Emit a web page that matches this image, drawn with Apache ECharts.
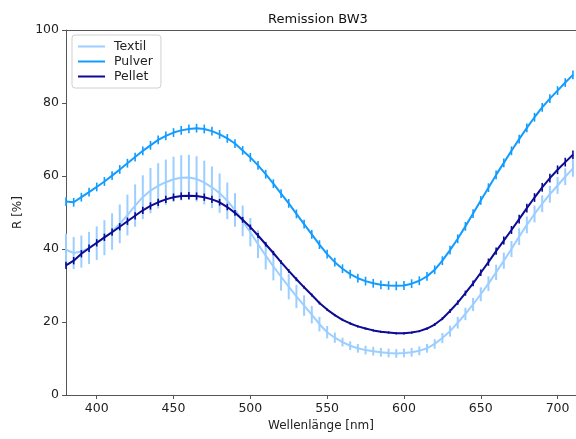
<!DOCTYPE html>
<html>
<head>
<meta charset="utf-8">
<script src="https://cdn.jsdelivr.net/npm/echarts@6/dist/echarts.min.js"></script>
<style>html,body{margin:0;padding:0;background:#fff}#c{width:576px;height:439px}</style>
</head>
<body>
<div id="c"></div>
<script>
var wavelengths = [];
for (var w = 380; w <= 710; w += 5) wavelengths.push(w);

var textil = [39.8,38.9,39.3,40.3,41.6,43.1,44.8,46.9,49.3,51.9,54.2,56.0,57.3,58.3,59.1,59.5,59.6,59.2,58.2,56.9,55.3,53.2,50.7,47.7,44.6,41.3,38.2,35.2,32.4,29.7,27.0,24.5,22.0,19.4,17.2,15.7,14.5,13.5,12.8,12.3,12.0,11.7,11.5,11.4,11.5,11.7,12.1,12.8,14.0,15.6,17.5,19.8,22.2,24.8,27.6,30.5,33.6,36.8,40.0,43.4,46.6,49.6,52.4,55.0,57.4,59.8,62.1];
var textilErr = [4.4,4.4,4.4,4.4,4.6,4.8,5.0,5.3,5.6,5.8,6.0,6.2,6.2,6.2,6.2,6.2,6.2,6.2,6.0,5.7,5.4,5.0,4.6,4.2,3.9,3.8,3.8,3.8,3.8,3.5,3.2,2.8,2.4,2.0,1.7,1.4,1.2,1.2,1.2,1.2,1.2,1.2,1.2,1.2,1.2,1.2,1.2,1.2,1.3,1.4,1.5,1.6,1.7,1.8,1.9,2.0,2.1,2.2,2.2,2.3,2.3,2.3,2.3,2.3,2.3,2.3,2.3];

var pulver = [53.0,52.8,54.2,55.6,57.0,58.5,60.1,61.8,63.5,65.2,66.9,68.4,69.9,71.0,71.9,72.5,72.9,73.1,72.9,72.3,71.4,70.3,68.9,67.0,65.1,62.9,60.5,57.9,55.2,52.5,49.6,46.8,44.0,41.2,38.6,36.4,34.6,33.1,32.0,31.2,30.6,30.2,30.0,29.9,30.0,30.5,31.3,32.5,34.3,36.8,39.7,42.8,46.2,49.7,53.3,56.8,60.3,63.6,66.9,70.1,73.2,76.1,78.8,81.2,83.4,85.6,87.7];
var pulverErr = [1.2,1.2,1.2,1.2,1.2,1.2,1.2,1.2,1.2,1.2,1.2,1.2,1.2,1.2,1.2,1.2,1.2,1.2,1.2,1.2,1.2,1.2,1.2,1.2,1.2,1.2,1.2,1.2,1.2,1.2,1.2,1.2,1.2,1.2,1.2,1.2,1.2,1.2,1.2,1.2,1.2,1.2,1.2,1.2,1.2,1.2,1.2,1.2,1.2,1.2,1.2,1.2,1.2,1.2,1.2,1.2,1.2,1.2,1.2,1.2,1.2,1.2,1.2,1.2,1.2,1.2,1.2];

var pellet = [35.5,36.8,38.7,40.2,41.7,43.2,44.6,46.1,47.6,49.1,50.6,51.8,52.8,53.6,54.2,54.5,54.6,54.5,54.2,53.6,52.8,51.5,49.9,48.0,46.0,43.7,41.3,38.9,36.4,34.0,31.7,29.5,27.4,25.2,23.4,21.9,20.6,19.6,18.8,18.2,17.7,17.3,17.1,16.9,16.9,17.1,17.5,18.2,19.3,20.9,23.0,25.3,27.9,30.6,33.5,36.4,39.4,42.3,45.2,48.2,51.2,54.1,56.9,59.4,61.7,63.8,65.8];
var pelletErr = [1.0,1.0,1.0,1.0,1.0,1.0,1.0,1.0,1.0,1.0,1.0,1.0,1.0,1.0,1.0,1.0,1.0,1.0,1.0,1.0,0.9,0.9,0.8,0.8,0.7,0.7,0.6,0.6,0.5,0.5,0.5,0.4,0.4,0.4,0.3,0.3,0.3,0.3,0.3,0.3,0.3,0.3,0.3,0.3,0.3,0.3,0.3,0.3,0.4,0.4,0.5,0.6,0.7,0.8,0.9,1.0,1.0,1.1,1.1,1.2,1.2,1.2,1.2,1.2,1.2,1.2,1.2];

var xTicks = [400,450,500,550,600,650,700];
var yTicks = [0,20,40,60,80,100];
var seriesNames = ['Textil','Pulver','Pellet'];
var colors = ['#9ccfff','#139cff','#0b0b96'];

function pairs(v){ return wavelengths.map(function(x,i){return [x, v[i]];}); }
function errData(v,e){ return wavelengths.map(function(x,i){return [x, v[i]-e[i], v[i]+e[i]];}); }
function errSeries(name, v, e, color, width, z){
  return {
    type:'custom', name:name, z:z, silent:true,
    data: errData(v,e),
    encode:{x:0, y:[1,2]},
    renderItem:function(params, api){
      var p1 = api.coord([api.value(0), api.value(1)]);
      var p2 = api.coord([api.value(0), api.value(2)]);
      return {type:'line', shape:{x1:p1[0],y1:p1[1],x2:p2[0],y2:p2[1]},
        style:{stroke:color, lineWidth:width}};
    }
  };
}
function lineSeries(name, v, color, width, z){
  return {type:'line', name:name, data:pairs(v), showSymbol:false, symbol:'none', z:z,
    lineStyle:{color:color, width:width}, itemStyle:{color:color}};
}

var font = 'DejaVu Sans';
var chart = echarts.init(document.getElementById('c'), null, {renderer:'canvas'});
chart.setOption({
  animation:false,
  backgroundColor:'#fff',
  title:{text:'Remission BW3', left:313, top:8, textAlign:'center',
    textStyle:{fontFamily:font, fontSize:13, fontWeight:'normal', color:'#111'}},
  legend:{
    data:seriesNames.map(function(n,i){return {name:n, icon:'rect', itemStyle:{color:colors[i]}};}),
    orient:'vertical', left:72, top:35, itemWidth:27, itemHeight:2, itemGap:2,
    padding:[5,8,5,6], borderColor:'#d0d0d0', borderWidth:1, borderRadius:3,
    backgroundColor:'rgba(255,255,255,0.8)',
    textStyle:{fontFamily:font, fontSize:12.5, color:'#222', padding:[0,0,0,4]}
  },
  grid:{left:66, top:30, right:0, bottom:44},
  xAxis:[{
    type:'value', min:380, max:712,
    name:'Wellenlänge [nm]', nameLocation:'middle', nameGap:24,
    nameTextStyle:{fontFamily:font, fontSize:12, color:'#222'},
    axisLine:{show:true, lineStyle:{color:'#555', width:1}},
    axisTick:{show:true, inside:false, length:4, customValues:xTicks, lineStyle:{color:'#555'}},
    axisLabel:{fontFamily:font, fontSize:12.5, color:'#222', margin:7, customValues:xTicks},
    splitLine:{show:false}
  },{
    type:'value', position:'top', min:380, max:712,
    axisLine:{show:true, lineStyle:{color:'#555', width:1}},
    axisTick:{show:false}, axisLabel:{show:false}, splitLine:{show:false}
  }],
  yAxis:{
    type:'value', min:0, max:100, interval:20,
    name:'R [%]', nameLocation:'middle', nameGap:42, nameRotate:90,
    nameTextStyle:{fontFamily:font, fontSize:12, color:'#222'},
    axisLine:{show:true, lineStyle:{color:'#555', width:1}},
    axisTick:{show:true, inside:false, length:4, lineStyle:{color:'#555'}},
    axisLabel:{fontFamily:font, fontSize:12.5, color:'#222', margin:7,
      customValues:yTicks},
    splitLine:{show:false}
  },
  series:[
    errSeries('Textil', textil, textilErr, colors[0], 2, 1),
    lineSeries('Textil', textil, colors[0], 2, 2),
    errSeries('Pulver', pulver, pulverErr, colors[1], 1.6, 3),
    lineSeries('Pulver', pulver, colors[1], 2, 4),
    errSeries('Pellet', pellet, pelletErr, colors[2], 1.6, 5),
    lineSeries('Pellet', pellet, colors[2], 2, 6)
  ]
});
</script>
</body>
</html>
